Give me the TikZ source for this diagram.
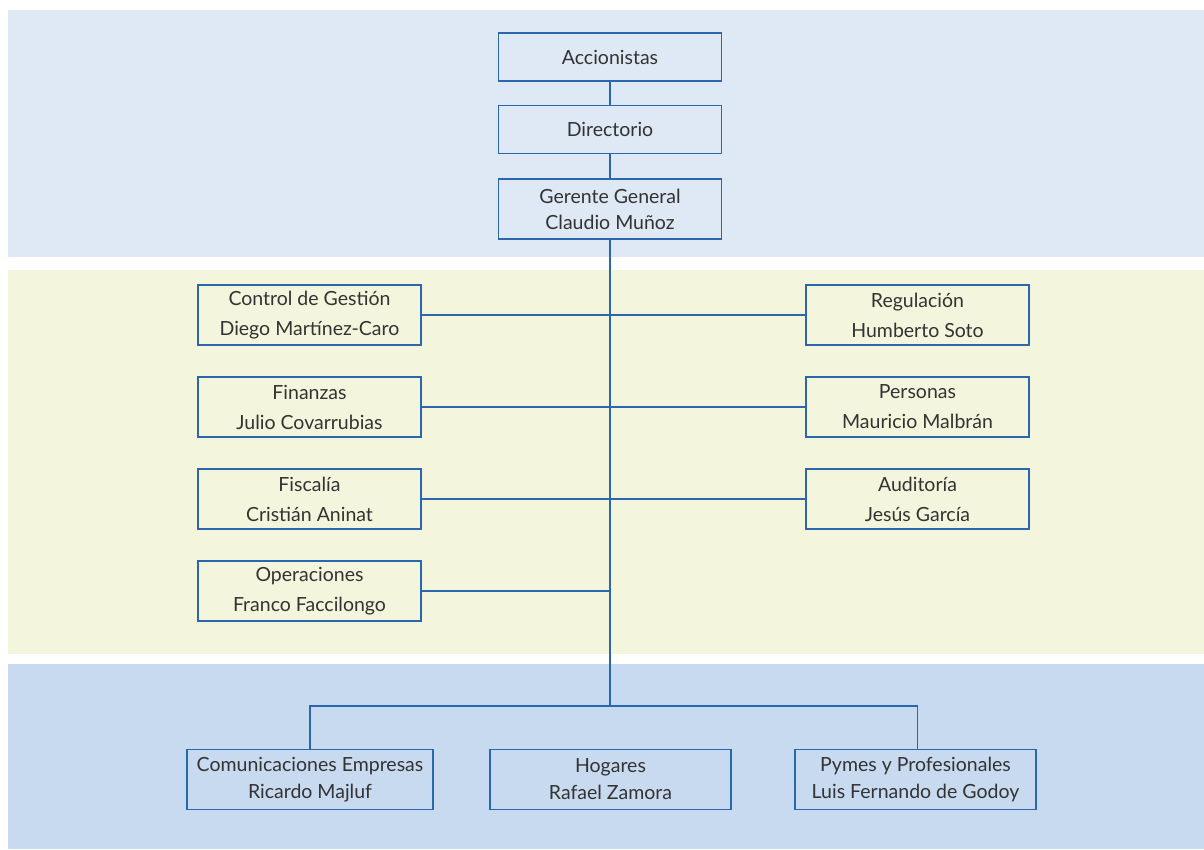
\documentclass[tikz,border=0pt]{standalone}
\usepackage{fontspec}
\setmainfont{Lato}
\usetikzlibrary{positioning}
\definecolor{fondoA}{HTML}{DFE8F5}
\definecolor{fondoB}{HTML}{F3F6DC}
\definecolor{fondoC}{HTML}{C8DAEF}
\definecolor{azul}{HTML}{2A67AE}
\definecolor{texto}{HTML}{333333}
\tikzset{
  caja/.style={draw=azul, line width=1.3pt, minimum width=223pt, minimum height=48pt,
    inner sep=0pt, align=center, text=texto, font=\fontsize{19.5}{26}\selectfont},
  cajaalta/.style={caja, minimum height=60pt},
  cajamedia/.style={caja, minimum height=60pt, font=\fontsize{19.5}{30}\selectfont},
  linea/.style={draw=azul, line width=1.3pt}
}
\begin{document}
\begin{tikzpicture}[x=1pt,y=-1pt,line join=miter]
      \useasboundingbox (0,0) rectangle (1204,849);
      % bandas de fondo
      \fill[fondoA] (8,10) rectangle (1204,257);
      \fill[fondoB] (8,270) rectangle (1204,654);
      \fill[fondoC] (8,664) rectangle (1204,849);
      % directorio y gerencia
      \node[caja] (accionistas) at (610,57) {Accionistas};
      \node[caja] (directorio) at (610,129.5) {Directorio};
      \node[cajaalta] (gerente) at (610,209) {Gerente General\\Claudio Muñoz};
      \draw[linea] (accionistas) -- (directorio);
      \draw[linea] (directorio) -- (gerente);
      % gerencias corporativas
      \node[cajamedia] (control) at (309.5,315) {Control de Gestión\\Diego Martínez-Caro};
      \node[cajamedia] (finanzas) at (309.5,407) {Finanzas\\Julio Covarrubias};
      \node[cajamedia] (fiscalia) at (309.5,499) {Fiscalía\\Cristián Aninat};
      \node[cajamedia] (operaciones) at (309.5,591) {Operaciones\\Franco Faccilongo};
      \node[cajamedia] (regulacion) at (917.5,315) {Regulación\\Humberto Soto};
      \node[cajamedia] (personas) at (917.5,407) {Personas\\Mauricio Malbrán};
      \node[cajamedia] (auditoria) at (917.5,499) {Auditoría\\Jesús García};
      \coordinate (nudo) at (gerente.south |- 0,706);
      \coordinate (nudoop) at (gerente.south |- operaciones.east);
      \draw[linea] (gerente) -- (nudo);
      \foreach \izq/\der in {control/regulacion, finanzas/personas, fiscalia/auditoria}
        \draw[linea] (\izq) -- (\der);
      \draw[linea] (operaciones) -- (nudoop);
      % unidades de negocio
      \node[cajaalta, minimum width=246pt, font=\fontsize{19.5}{27}\selectfont] (empresas) at (310,779.5) {Comunicaciones Empresas\\Ricardo Majluf};
      \node[cajaalta, minimum width=241pt, font=\fontsize{19.5}{27}\selectfont] (hogares) at (610.5,779.5) {Hogares\\Rafael Zamora};
      \node[cajaalta, minimum width=241pt, font=\fontsize{19.5}{27}\selectfont] (pymes) at (915.5,779.5) {Pymes y Profesionales\\Luis Fernando de Godoy};
      \draw[linea] (empresas.north) |- (nudo) -| (917.5,750);
\end{tikzpicture}
\end{document}
